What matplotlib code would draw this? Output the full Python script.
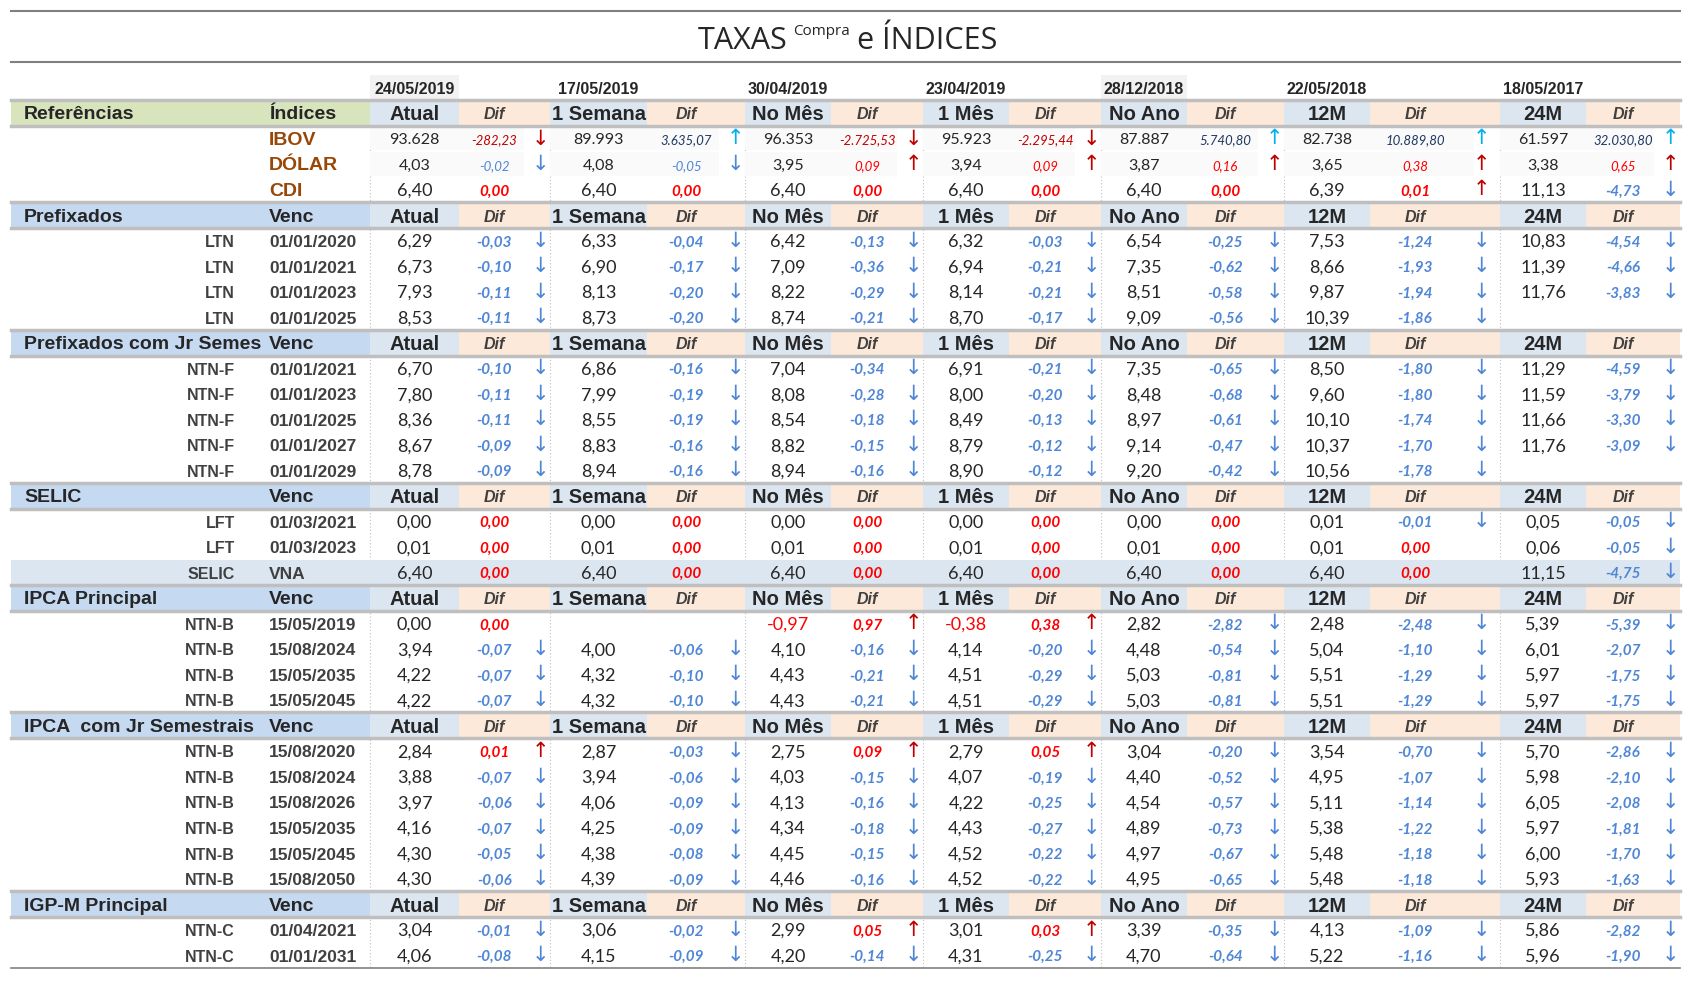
import matplotlib.pyplot as plt
from matplotlib.patches import Rectangle

# ---- data ----
dates = ['24/05/2019', '17/05/2019', '30/04/2019', '23/04/2019', '28/12/2018', '22/05/2018', '18/05/2017']
periods = ['Atual', '1 Semana', 'No Mês', '1 Mês', 'No Ano', '12M', '24M']

ref_names = ['IBOV', 'DÓLAR', 'CDI']
ibov_vals = [93628, 89993, 96353, 95923, 87887, 82738, 61597]
ibov_difs = [-282.23, 3635.07, -2725.53, -2295.44, 5740.80, 10889.80, 32030.80]
dolar_vals = [4.03, 4.08, 3.95, 3.94, 3.87, 3.65, 3.38]
dolar_difs = [-0.02, -0.05, 0.09, 0.09, 0.16, 0.38, 0.65]
cdi_vals = [6.40, 6.40, 6.40, 6.40, 6.40, 6.39, 11.13]
cdi_difs = [0.00, 0.00, 0.00, 0.00, 0.00, 0.01, -4.73]

ltn_venc = ['01/01/2020', '01/01/2021', '01/01/2023', '01/01/2025']
ltn_vals = [[6.29, 6.33, 6.42, 6.32, 6.54, 7.53, 10.83],
            [6.73, 6.90, 7.09, 6.94, 7.35, 8.66, 11.39],
            [7.93, 8.13, 8.22, 8.14, 8.51, 9.87, 11.76],
            [8.53, 8.73, 8.74, 8.70, 9.09, 10.39, None]]
ltn_difs = [[-0.03, -0.04, -0.13, -0.03, -0.25, -1.24, -4.54],
            [-0.10, -0.17, -0.36, -0.21, -0.62, -1.93, -4.66],
            [-0.11, -0.20, -0.29, -0.21, -0.58, -1.94, -3.83],
            [-0.11, -0.20, -0.21, -0.17, -0.56, -1.86, None]]

ntnf_venc = ['01/01/2021', '01/01/2023', '01/01/2025', '01/01/2027', '01/01/2029']
ntnf_vals = [[6.70, 6.86, 7.04, 6.91, 7.35, 8.50, 11.29],
             [7.80, 7.99, 8.08, 8.00, 8.48, 9.60, 11.59],
             [8.36, 8.55, 8.54, 8.49, 8.97, 10.10, 11.66],
             [8.67, 8.83, 8.82, 8.79, 9.14, 10.37, 11.76],
             [8.78, 8.94, 8.94, 8.90, 9.20, 10.56, None]]
ntnf_difs = [[-0.10, -0.16, -0.34, -0.21, -0.65, -1.80, -4.59],
             [-0.11, -0.19, -0.28, -0.20, -0.68, -1.80, -3.79],
             [-0.11, -0.19, -0.18, -0.13, -0.61, -1.74, -3.30],
             [-0.09, -0.16, -0.15, -0.12, -0.47, -1.70, -3.09],
             [-0.09, -0.16, -0.16, -0.12, -0.42, -1.78, None]]

selic_names = ['LFT', 'LFT', 'SELIC']
selic_venc = ['01/03/2021', '01/03/2023', 'VNA']
selic_vals = [[0.00, 0.00, 0.00, 0.00, 0.00, 0.01, 0.05],
              [0.01, 0.01, 0.01, 0.01, 0.01, 0.01, 0.06],
              [6.40, 6.40, 6.40, 6.40, 6.40, 6.40, 11.15]]
selic_difs = [[0.00, 0.00, 0.00, 0.00, 0.00, -0.01, -0.05],
              [0.00, 0.00, 0.00, 0.00, 0.00, 0.00, -0.05],
              [0.00, 0.00, 0.00, 0.00, 0.00, 0.00, -4.75]]

ipca_venc = ['15/05/2019', '15/08/2024', '15/05/2035', '15/05/2045']
ipca_vals = [[0.00, None, -0.97, -0.38, 2.82, 2.48, 5.39],
             [3.94, 4.00, 4.10, 4.14, 4.48, 5.04, 6.01],
             [4.22, 4.32, 4.43, 4.51, 5.03, 5.51, 5.97],
             [4.22, 4.32, 4.43, 4.51, 5.03, 5.51, 5.97]]
ipca_difs = [[0.00, None, 0.97, 0.38, -2.82, -2.48, -5.39],
             [-0.07, -0.06, -0.16, -0.20, -0.54, -1.10, -2.07],
             [-0.07, -0.10, -0.21, -0.29, -0.81, -1.29, -1.75],
             [-0.07, -0.10, -0.21, -0.29, -0.81, -1.29, -1.75]]

ipcajr_venc = ['15/08/2020', '15/08/2024', '15/08/2026', '15/05/2035', '15/05/2045', '15/08/2050']
ipcajr_vals = [[2.84, 2.87, 2.75, 2.79, 3.04, 3.54, 5.70],
               [3.88, 3.94, 4.03, 4.07, 4.40, 4.95, 5.98],
               [3.97, 4.06, 4.13, 4.22, 4.54, 5.11, 6.05],
               [4.16, 4.25, 4.34, 4.43, 4.89, 5.38, 5.97],
               [4.30, 4.38, 4.45, 4.52, 4.97, 5.48, 6.00],
               [4.30, 4.39, 4.46, 4.52, 4.95, 5.48, 5.93]]
ipcajr_difs = [[0.01, -0.03, 0.09, 0.05, -0.20, -0.70, -2.86],
               [-0.07, -0.06, -0.15, -0.19, -0.52, -1.07, -2.10],
               [-0.06, -0.09, -0.16, -0.25, -0.57, -1.14, -2.08],
               [-0.07, -0.09, -0.18, -0.27, -0.73, -1.22, -1.81],
               [-0.05, -0.08, -0.15, -0.22, -0.67, -1.18, -1.70],
               [-0.06, -0.09, -0.16, -0.22, -0.65, -1.18, -1.63]]

igpm_venc = ['01/04/2021', '01/01/2031']
igpm_vals = [[3.04, 3.06, 2.99, 3.01, 3.39, 4.13, 5.86],
             [4.06, 4.15, 4.20, 4.31, 4.70, 5.22, 5.96]]
igpm_difs = [[-0.01, -0.02, 0.05, 0.03, -0.35, -1.09, -2.82],
             [-0.08, -0.09, -0.14, -0.25, -0.64, -1.16, -1.90]]

sections = [
    ('Prefixados', ['LTN'] * 4, ltn_venc, ltn_vals, ltn_difs),
    ('Prefixados com Jr Semes', ['NTN-F'] * 5, ntnf_venc, ntnf_vals, ntnf_difs),
    ('SELIC', selic_names, selic_venc, selic_vals, selic_difs),
    ('IPCA Principal', ['NTN-B'] * 4, ipca_venc, ipca_vals, ipca_difs),
    ('IPCA  com Jr Semestrais', ['NTN-B'] * 6, ipcajr_venc, ipcajr_vals, ipcajr_difs),
    ('IGP-M Principal', ['NTN-C'] * 2, igpm_venc, igpm_vals, igpm_difs),
]

# ---- layout ----
X0, X1 = 11, 1680
bounds = [370, 459, 550, 647, 745, 831, 923, 1009, 1101, 1187, 1284, 1370, 1500, 1586, 1680]
Y0, DY = 87.4, 25.52
NUM = 'Lato'
LAB = 'Liberation Sans'
BLUE, RED, DRED, CYAN = '#4f86d6', '#ff0000', '#c00000', '#00b0f0'
LY = 2  # label baseline nudge

fig = plt.figure(figsize=(16.92, 9.82), dpi=100)
ax = fig.add_axes([0, 0, 1, 1])
ax.set_xlim(0, 1692)
ax.set_ylim(982, 0)
ax.axis('off')


def num(v, thousands=False):
    if thousands:
        s = f'{v:,.2f}' if isinstance(v, float) else f'{v:,.0f}'
        return s.replace(',', 'X').replace('.', ',').replace('X', '.')
    return f'{v:.2f}'.replace('.', ',')


def rowy(i):
    return Y0 + i * DY


def dif_x(k, b, c):
    return (b + c) / 2 - (10 if k != 5 else 20)


def arrow_x(k, c):
    return c - (10 if k != 5 else 19)


def header(i, name, second, color):
    y = rowy(i)
    ax.add_patch(Rectangle((X0, y - 12.5), bounds[0] - X0, 25, color=color, lw=0))
    for k in range(7):
        a, b, c = bounds[2 * k], bounds[2 * k + 1], bounds[2 * k + 2]
        ax.add_patch(Rectangle((a, y - 12.5), b - a, 25, color='#dce6f1', lw=0))
        ax.add_patch(Rectangle((b, y - 12.5), c - b, 25, color='#fde9d9', lw=0))
        ax.text((a + b) / 2, y + LY, periods[k], ha='center', va='center', fontsize=14.5,
                fontweight='bold', family=LAB, color='#262626')
        ax.text(dif_x(k, b, c), y + LY, 'Dif', ha='center', va='center', fontsize=11.5,
                fontweight='bold', style='italic', family=LAB, color='#404040')
    ax.plot([X0, X1], [y - 13, y - 13], color='#bfbfbf', lw=2.5)
    ax.plot([X0, X1], [y + 13, y + 13], color='#bfbfbf', lw=2.5)
    ax.text(24, y + LY, name, ha='left', va='center', fontsize=14, fontweight='bold',
            family=LAB, color='#262626')
    ax.text(269, y + LY, second, ha='left', va='center', fontsize=14, fontweight='bold',
            family=LAB, color='#262626')


def cells(i, vals, difs, kind='normal'):
    y = rowy(i)
    for k in range(7):
        a, b, c = bounds[2 * k], bounds[2 * k + 1], bounds[2 * k + 2]
        v, d = vals[k], difs[k]
        if kind in ('ibov', 'dolar'):
            ax.add_patch(Rectangle((a, y - 12), c - a - 26, 24, color='#fafafa', lw=0))
        if v is None:
            continue
        vcol = RED if v < 0 else '#262626'
        ax.text((a + b) / 2, y + 1.5, num(v, kind == 'ibov'), ha='center', va='center',
                fontsize=13 if kind == 'normal' else 11.5, family=NUM, color=vcol)
        if kind == 'normal':
            dcol = BLUE if d < 0 else RED
            acol = BLUE if d < 0 else DRED
            ax.text(dif_x(k, b, c), y + 2, num(d), ha='center', va='center', fontsize=11,
                    fontweight='bold', style='italic', family=NUM, color=dcol)
        else:
            if kind == 'ibov':
                dcol = DRED if d < 0 else '#1f3864'
                acol = DRED if d < 0 else CYAN
            else:
                dcol = BLUE if d < 0 else RED
                acol = BLUE if d < 0 else DRED
            ax.text(dif_x(k, b, c), y + 2, num(d, kind == 'ibov'), ha='center', va='center',
                    fontsize=9.5, style='italic', family=NUM, color=dcol)
        if d != 0:
            ax.text(arrow_x(k, c), y, '↓' if d < 0 else '↑', ha='center', va='center',
                    fontsize=15, family='DejaVu Sans', color=acol)


# title
ax.plot([X0, X1], [11, 11], color='#808080', lw=1.5)
ax.plot([X0, X1], [62, 62], color='#808080', lw=1.5)
ax.text(787, 41, 'TAXAS', ha='right', va='center', fontsize=22, family='Open Sans', color='#262626')
ax.text(793, 31, 'Compra', ha='left', va='center', fontsize=11, family='Open Sans', color='#262626')
ax.text(857, 41, 'e ÍNDICES', ha='left', va='center', fontsize=22, family='Open Sans', color='#262626')

# dates row
for k in range(7):
    a, b = bounds[2 * k], bounds[2 * k + 1]
    if k in (0, 4):
        ax.add_patch(Rectangle((a, rowy(0) - 12.5), b - a, 25, color='#f2f2f2', lw=0))
    ax.text((a + b) / 2, rowy(0) + LY, dates[k], ha='center', va='center', fontsize=11.5,
            fontweight='bold', family=LAB, color='#262626')

# referencias
header(1, 'Referências', 'Índices', '#d8e4bc')
for j, (nm, vv, dd, kd) in enumerate([('IBOV', ibov_vals, ibov_difs, 'ibov'),
                                      ('DÓLAR', dolar_vals, dolar_difs, 'dolar'),
                                      ('CDI', cdi_vals, cdi_difs, 'normal')]):
    ax.text(269, rowy(2 + j) + LY, nm, ha='left', va='center', fontsize=14, fontweight='bold',
            family=LAB, color='#974706')
    cells(2 + j, vv, dd, kd)

row = 5
for title, names, venc, vals, difs in sections:
    header(row, title, 'Venc', '#c5d9f1')
    row += 1
    for j in range(len(venc)):
        y = rowy(row)
        if names[j] == 'SELIC':
            ax.add_patch(Rectangle((X0, y - 12.5), X1 - X0, 25, color='#dce6f1', lw=0))
        ax.text(235, y + LY, names[j], ha='right', va='center', fontsize=11.5, fontweight='bold',
                family=LAB, color='#404040')
        ax.text(269, y + LY, venc[j], ha='left', va='center', fontsize=12.5, fontweight='bold',
                family=LAB, color='#404040')
        cells(row, vals[j], difs[j])
        row += 1

# dotted separators
for k in range(7):
    ax.plot([bounds[2 * k]] * 2, [rowy(2) - 12, rowy(row - 1) + 12], color='#bfbfbf',
            lw=0.8, ls=(0, (1, 2)), zorder=0)
ax.plot([X0, X1], [rowy(row - 1) + 13, rowy(row - 1) + 13], color='#808080', lw=1.2)

fig.savefig('out.png', dpi=100)
